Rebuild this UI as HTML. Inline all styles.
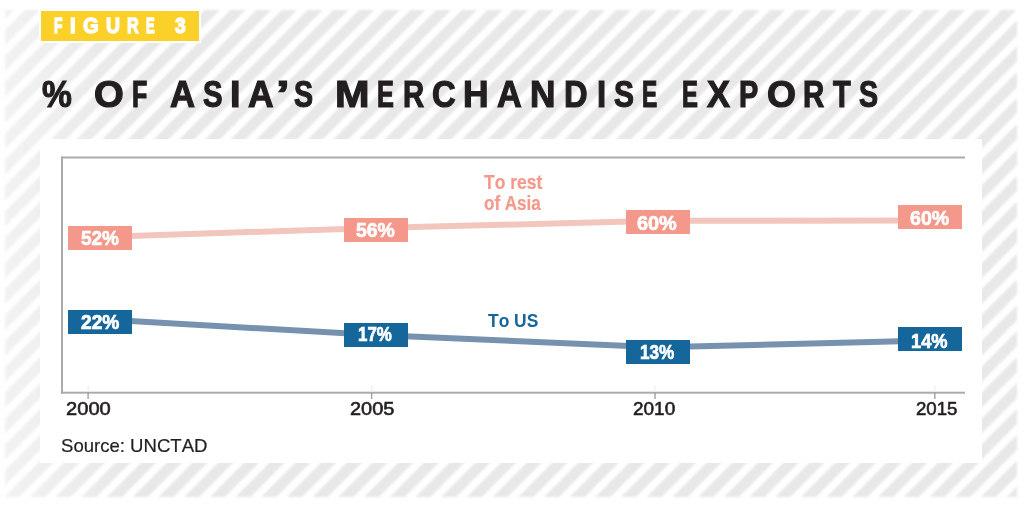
<!DOCTYPE html>
<html>
<head>
<meta charset="utf-8">
<style>
html,body{margin:0;padding:0;}
body{width:1024px;height:505px;overflow:hidden;background:#fff;position:relative;font-family:"Liberation Sans",sans-serif;}
.abs{position:absolute;}
.lt{position:absolute;font-kerning:none;white-space:nowrap;line-height:1;font-weight:bold;transform-origin:0 0;}
#fig{position:absolute;left:41px;top:10.8px;width:158.4px;height:29.8px;background:#FBD029;box-shadow:0 0 0 2px #fff;}
#panel{position:absolute;left:40px;top:138.7px;width:942px;height:324.5px;background:#fff;}
.box{position:absolute;width:64px;height:24px;}
.pk{background:#F3988B;}
.bl{background:#15679B;}
</style>
</head>
<body>
<svg class="abs" style="left:0;top:0;filter:blur(0.9px)" width="1024" height="505">
  <defs>
    <linearGradient id="lf" x1="0" y1="0" x2="1" y2="0">
      <stop offset="0" stop-color="#fff" stop-opacity="0.45"/>
      <stop offset="0.35" stop-color="#fff" stop-opacity="0.3"/>
      <stop offset="1" stop-color="#fff" stop-opacity="0"/>
    </linearGradient>
    <pattern id="sp" patternUnits="userSpaceOnUse" x="9.15" y="0" width="25.7" height="1200" patternTransform="skewX(-44.78)">
      <rect x="0" y="0" width="15" height="1200" fill="#E8E8E8"/>
    </pattern>
  </defs>
  <rect x="5" y="10" width="1012" height="487" fill="url(#sp)"/>
  <rect x="0" y="0" width="130" height="505" fill="url(#lf)"/>
</svg>
<div id="fig"></div>
<span class="lt" style="left:53.67px;top:14.68px;font-size:22.00px;color:#fff;transform:scaleX(0.6270);-webkit-text-stroke:1.40px #fff;">F</span>
<span class="lt" style="left:70.03px;top:14.68px;font-size:22.00px;color:#fff;transform:scaleX(0.9250);-webkit-text-stroke:1.40px #fff;">I</span>
<span class="lt" style="left:82.69px;top:14.68px;font-size:22.00px;color:#fff;transform:scaleX(0.9158);-webkit-text-stroke:1.40px #fff;">G</span>
<span class="lt" style="left:105.64px;top:14.68px;font-size:22.00px;color:#fff;transform:scaleX(0.8788);-webkit-text-stroke:1.40px #fff;">U</span>
<span class="lt" style="left:126.70px;top:14.68px;font-size:22.00px;color:#fff;transform:scaleX(0.7402);-webkit-text-stroke:1.40px #fff;">R</span>
<span class="lt" style="left:146.43px;top:14.68px;font-size:22.00px;color:#fff;transform:scaleX(0.5844);-webkit-text-stroke:1.40px #fff;">E</span>
<span class="lt" style="left:175.07px;top:14.68px;font-size:22.00px;color:#fff;transform:scaleX(0.8680);-webkit-text-stroke:1.40px #fff;">3</span>
<span class="lt" style="left:41.66px;top:75.68px;font-size:37.00px;color:#231F20;transform:scaleX(0.9068);-webkit-text-stroke:1.20px #231F20;">%</span>
<span class="lt" style="left:93.67px;top:75.68px;font-size:37.00px;color:#231F20;transform:scaleX(1.0344);-webkit-text-stroke:1.20px #231F20;">O</span>
<span class="lt" style="left:131.61px;top:75.68px;font-size:37.00px;color:#231F20;transform:scaleX(0.6763);-webkit-text-stroke:1.20px #231F20;">F</span>
<span class="lt" style="left:170.33px;top:75.68px;font-size:37.00px;color:#231F20;transform:scaleX(0.9359);-webkit-text-stroke:1.20px #231F20;">A</span>
<span class="lt" style="left:203.12px;top:75.68px;font-size:37.00px;color:#231F20;transform:scaleX(0.7916);-webkit-text-stroke:1.20px #231F20;">S</span>
<span class="lt" style="left:230.44px;top:75.68px;font-size:37.00px;color:#231F20;transform:scaleX(1.0242);-webkit-text-stroke:1.20px #231F20;">I</span>
<span class="lt" style="left:248.22px;top:75.68px;font-size:37.00px;color:#231F20;transform:scaleX(0.9560);-webkit-text-stroke:1.20px #231F20;">A</span>
<span class="lt" style="left:275.65px;top:75.68px;font-size:37.00px;color:#231F20;transform:scaleX(1.3320);-webkit-text-stroke:1.20px #231F20;">’</span>
<span class="lt" style="left:293.64px;top:75.68px;font-size:37.00px;color:#231F20;transform:scaleX(0.7735);-webkit-text-stroke:1.20px #231F20;">S</span>
<span class="lt" style="left:335.10px;top:75.68px;font-size:37.00px;color:#231F20;transform:scaleX(1.1198);-webkit-text-stroke:1.20px #231F20;">M</span>
<span class="lt" style="left:377.19px;top:75.68px;font-size:37.00px;color:#231F20;transform:scaleX(0.6853);-webkit-text-stroke:1.20px #231F20;">E</span>
<span class="lt" style="left:402.63px;top:75.68px;font-size:37.00px;color:#231F20;transform:scaleX(0.7905);-webkit-text-stroke:1.20px #231F20;">R</span>
<span class="lt" style="left:431.79px;top:75.68px;font-size:37.00px;color:#231F20;transform:scaleX(0.8871);-webkit-text-stroke:1.20px #231F20;">C</span>
<span class="lt" style="left:463.31px;top:75.68px;font-size:37.00px;color:#231F20;transform:scaleX(0.9569);-webkit-text-stroke:1.20px #231F20;">H</span>
<span class="lt" style="left:497.15px;top:75.68px;font-size:37.00px;color:#231F20;transform:scaleX(0.9238);-webkit-text-stroke:1.20px #231F20;">A</span>
<span class="lt" style="left:530.02px;top:75.68px;font-size:37.00px;color:#231F20;transform:scaleX(0.9523);-webkit-text-stroke:1.20px #231F20;">N</span>
<span class="lt" style="left:563.90px;top:75.68px;font-size:37.00px;color:#231F20;transform:scaleX(0.8825);-webkit-text-stroke:1.20px #231F20;">D</span>
<span class="lt" style="left:596.77px;top:75.68px;font-size:37.00px;color:#231F20;transform:scaleX(0.8914);-webkit-text-stroke:1.20px #231F20;">I</span>
<span class="lt" style="left:613.70px;top:75.68px;font-size:37.00px;color:#231F20;transform:scaleX(0.8097);-webkit-text-stroke:1.20px #231F20;">S</span>
<span class="lt" style="left:642.36px;top:75.68px;font-size:37.00px;color:#231F20;transform:scaleX(0.6178);-webkit-text-stroke:1.20px #231F20;">E</span>
<span class="lt" style="left:681.88px;top:75.68px;font-size:37.00px;color:#231F20;transform:scaleX(0.6467);-webkit-text-stroke:1.20px #231F20;">E</span>
<span class="lt" style="left:706.56px;top:75.68px;font-size:37.00px;color:#231F20;transform:scaleX(0.9308);-webkit-text-stroke:1.20px #231F20;">X</span>
<span class="lt" style="left:738.95px;top:75.68px;font-size:37.00px;color:#231F20;transform:scaleX(0.7797);-webkit-text-stroke:1.20px #231F20;">P</span>
<span class="lt" style="left:766.51px;top:75.68px;font-size:37.00px;color:#231F20;transform:scaleX(1.0072);-webkit-text-stroke:1.20px #231F20;">O</span>
<span class="lt" style="left:803.32px;top:75.68px;font-size:37.00px;color:#231F20;transform:scaleX(0.7948);-webkit-text-stroke:1.20px #231F20;">R</span>
<span class="lt" style="left:832.81px;top:75.68px;font-size:37.00px;color:#231F20;transform:scaleX(0.7833);-webkit-text-stroke:1.20px #231F20;">T</span>
<span class="lt" style="left:858.64px;top:75.68px;font-size:37.00px;color:#231F20;transform:scaleX(0.7735);-webkit-text-stroke:1.20px #231F20;">S</span>
<div id="panel"></div>
<svg class="abs" style="left:0;top:0" width="1024" height="505">
  <rect x="61" y="156.5" width="904" height="2" fill="#ABABAB"/>
  <rect x="61" y="391.7" width="904" height="2" fill="#ABABAB"/>
  <rect x="61" y="156.5" width="2" height="237.2" fill="#ABABAB"/>
  <rect x="87.4" y="386" width="1.4" height="6" fill="#EFEFEF"/>
  <rect x="370.9" y="386" width="1.4" height="6" fill="#EFEFEF"/>
  <rect x="654.3" y="386" width="1.4" height="6" fill="#EFEFEF"/>
  <rect x="934.1" y="386" width="1.4" height="6" fill="#EFEFEF"/>
  <rect x="87.4" y="392" width="1.4" height="7" fill="#A0A0A0"/>
  <rect x="370.9" y="392" width="1.4" height="7" fill="#A0A0A0"/>
  <rect x="654.3" y="392" width="1.4" height="7" fill="#A0A0A0"/>
  <rect x="934.1" y="392" width="1.4" height="7" fill="#A0A0A0"/>
  <polyline points="100,236.9 376,228 658,220.8 930,220.6" fill="none" stroke="#F2C6BD" stroke-width="6"/>
  <polyline points="100,319.2 376,335 658,347.3 930,340.6" fill="none" stroke="#7792AF" stroke-width="6"/>
</svg>
<div class="box pk" style="left:68px;top:226px;"></div>
<div class="box pk" style="left:344px;top:218px;"></div>
<div class="box pk" style="left:626px;top:210px;"></div>
<div class="box pk" style="left:898px;top:205px;"></div>
<div class="box bl" style="left:68px;top:310px;"></div>
<div class="box bl" style="left:344px;top:323px;"></div>
<div class="box bl" style="left:626px;top:340px;"></div>
<div class="box bl" style="left:898px;top:327px;"></div>
<span class="lt" style="left:81.18px;top:227.42px;font-size:21.00px;color:#fff;transform:scaleX(0.9035);-webkit-text-stroke:0.70px #fff;">52%</span>
<span class="lt" style="left:355.57px;top:219.12px;font-size:21.00px;color:#fff;transform:scaleX(0.9231);-webkit-text-stroke:0.70px #fff;">56%</span>
<span class="lt" style="left:637.20px;top:211.92px;font-size:21.00px;color:#fff;transform:scaleX(0.9463);-webkit-text-stroke:0.70px #fff;">60%</span>
<span class="lt" style="left:909.82px;top:207.22px;font-size:21.00px;color:#fff;transform:scaleX(0.9316);-webkit-text-stroke:0.70px #fff;">60%</span>
<span class="lt" style="left:81.08px;top:311.12px;font-size:21.00px;color:#fff;transform:scaleX(0.9132);-webkit-text-stroke:0.70px #fff;">22%</span>
<span class="lt" style="left:357.79px;top:323.32px;font-size:21.00px;color:#fff;transform:scaleX(0.8043);-webkit-text-stroke:0.70px #fff;">17%</span>
<span class="lt" style="left:639.98px;top:341.42px;font-size:21.00px;color:#fff;transform:scaleX(0.8167);-webkit-text-stroke:0.70px #fff;">13%</span>
<span class="lt" style="left:910.91px;top:329.82px;font-size:21.00px;color:#fff;transform:scaleX(0.8690);-webkit-text-stroke:0.70px #fff;">14%</span>
<span class="lt" style="left:483.83px;top:171.87px;font-size:20.00px;color:#F4998B;transform:scaleX(0.8743);-webkit-text-stroke:0.20px #F4998B;">To rest</span>
<span class="lt" style="left:484.32px;top:193.07px;font-size:20.00px;color:#F4998B;transform:scaleX(0.8514);-webkit-text-stroke:0.20px #F4998B;">of Asia</span>
<span class="lt" style="left:488.33px;top:311.05px;font-size:19.20px;color:#16669A;transform:scaleX(0.9080);">To US</span>
<span class="lt" style="left:66.09px;top:398.92px;font-size:19.00px;color:#231F20;transform:scaleX(1.0595);font-weight:normal;-webkit-text-stroke:0.60px #231F20;">2000</span>
<span class="lt" style="left:349.50px;top:398.92px;font-size:19.00px;color:#231F20;transform:scaleX(1.0484);font-weight:normal;-webkit-text-stroke:0.60px #231F20;">2005</span>
<span class="lt" style="left:633.05px;top:398.92px;font-size:19.00px;color:#231F20;transform:scaleX(0.9979);font-weight:normal;-webkit-text-stroke:0.60px #231F20;">2010</span>
<span class="lt" style="left:916.27px;top:398.92px;font-size:19.00px;color:#231F20;transform:scaleX(0.9818);font-weight:normal;-webkit-text-stroke:0.60px #231F20;">2015</span>
<span class="lt" style="left:60.87px;top:436.94px;font-size:18.50px;color:#231F20;transform:scaleX(1.0029);font-weight:normal;-webkit-text-stroke:0.20px #231F20;">Source: UNCTAD</span>
</body>
</html>
